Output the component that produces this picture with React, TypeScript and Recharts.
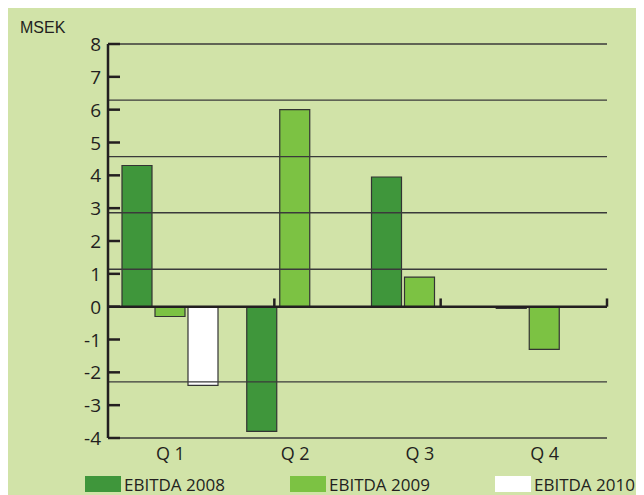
import React from 'react';
import { BarChart, Bar, XAxis, YAxis, ReferenceLine, Legend } from 'recharts';

// values in MSEK
const quarters = ['Q 1', 'Q 2', 'Q 3', 'Q 4'];
const ebitda2008 = [4.3, -3.8, 3.95, -0.05];
const ebitda2009 = [-0.3, 6.0, 0.9, -1.3];
const ebitda2010 = [-2.4, null, null, null];
const yTicks = [-4, -3, -2, -1, 0, 1, 2, 3, 4, 5, 6, 7, 8];
const gridValues = [8, 6.29, 4.57, 2.86, 1.14, -2.29, -4];
const quarterEdges = [1, 2, 3, 4];

const series = [
  { key: 'e2008', name: 'EBITDA 2008', color: '#3f963b' },
  { key: 'e2009', name: 'EBITDA 2009', color: '#7cc243' },
  { key: 'e2010', name: 'EBITDA 2010', color: '#ffffff' },
];

const data = quarters.map((q, i) => ({
  q,
  e2008: ebitda2008[i],
  e2009: ebitda2009[i],
  e2010: ebitda2010[i],
}));

const FONT = '"Open Sans", "DejaVu Sans", sans-serif';
const INK = '#231f20';

const YTick = (props: any) => {
  const { x, y, payload } = props;
  return (
    <g>
      <line x1={x} x2={x + 12} y1={y} y2={y} stroke={INK} strokeWidth={2.5} />
      <text x={x - 7} y={y} dy={7} textAnchor="end" fontSize={19} fill={INK} fontFamily={FONT}>
        {payload.value}
      </text>
    </g>
  );
};

const LegendBox = () => (
  <div style={{ position: 'relative', height: 20, fontFamily: FONT, fontSize: 17, color: INK }}>
    {series.map((s, i) => (
      <div key={s.key} style={{ position: 'absolute', left: 77 + i * 205, top: 0, height: 20, display: 'flex', alignItems: 'center', whiteSpace: 'nowrap' }}>
        <span style={{ width: 36, height: 16, background: s.color, display: 'inline-block', marginRight: 3 }} />
        <span>{s.name}</span>
      </div>
    ))}
  </div>
);

const App = () => {
  return (
    <div style={{ position: 'relative', width: 636, height: 487, background: '#d1e3a8', overflow: 'hidden' }}>
      <div style={{ position: 'absolute', left: 12, top: 11, fontFamily: '"Liberation Sans", Arial, sans-serif', fontSize: 16, color: INK }}>MSEK</div>
      <BarChart
        width={636}
        height={487}
        data={data}
        margin={{ top: 36, right: 37, left: 0, bottom: 0 }}
        barGap={3}
        barCategoryGap={15}
      >
        <XAxis
          xAxisId="cat"
          dataKey="q"
          axisLine={false}
          tickLine={false}
          tick={{ fontSize: 18, fill: INK, fontFamily: FONT }}
          tickMargin={3}
          height={37}
        />
        <XAxis xAxisId="n" type="number" domain={[0, 4]} hide />
        <YAxis
          domain={[-4, 8]}
          ticks={yTicks}
          interval={0}
          width={100}
          tickSize={0}
          tickMargin={0}
          tick={<YTick />}
          axisLine={{ stroke: INK, strokeWidth: 2.5 }}
          tickLine={false}
        />
        {gridValues.map((v) => (
          <ReferenceLine key={v} xAxisId="cat" y={v} stroke="#3a3a3a" strokeWidth={1.3} />
        ))}
        {series.map((s) => (
          <Bar
            key={s.key}
            xAxisId="cat"
            dataKey={s.key}
            name={s.name}
            fill={s.color}
            stroke="#333"
            strokeWidth={1.2}
            barSize={30}
            isAnimationActive={false}
          />
        ))}
        <ReferenceLine xAxisId="cat" y={0} stroke={INK} strokeWidth={2.5} />
        {quarterEdges.map((e) => (
          <ReferenceLine
            key={e}
            xAxisId="n"
            segment={[{ x: e, y: 0 }, { x: e, y: 0.25 }]}
            stroke={INK}
            strokeWidth={2.5}
          />
        ))}
        <Legend
          content={<LegendBox />}
          wrapperStyle={{ position: 'absolute', left: 0, top: 466, width: 636 }}
        />
      </BarChart>
    </div>
  );
};

export default App;
